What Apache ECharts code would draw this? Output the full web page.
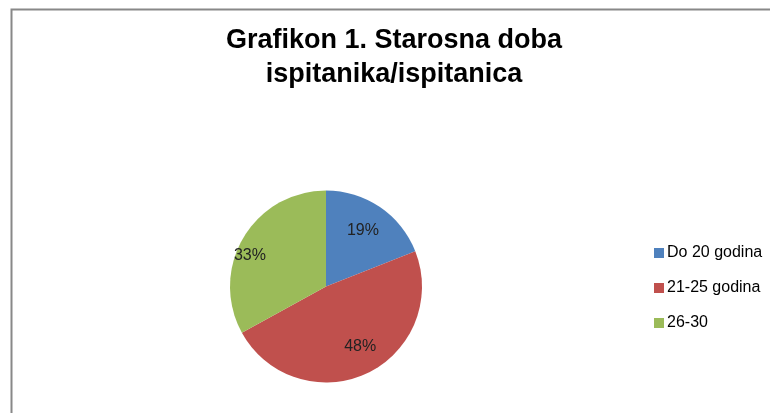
<!DOCTYPE html>
<html>
<head>
<meta charset="utf-8">
<style>
  html, body { margin: 0; padding: 0; background: #fff; }
  #chart { width: 770px; height: 413px; }
</style>
<script src="https://cdn.jsdelivr.net/npm/echarts@6/dist/echarts.min.js"></script>
</head>
<body>
<div id="chart"></div>
<script>
// podaci sa grafikona
var categories = ['Do 20 godina', '21-25 godina', '26-30']
var values = [19, 48, 33]
var colors = ['#4F81BD', '#C0504D', '#9BBB59']
// pomak oznaka postotaka (px), kao u izvorniku
var labelOffsets = [[-3, 3], [4, -4], [-15, 5]]

var font = '"Liberation Sans", sans-serif'

var chart = echarts.init(document.getElementById('chart'), null, { renderer: 'canvas' })

var pieData = categories.map(function (name, i) {
  return { name: name, value: values[i], itemStyle: { color: colors[i] } }
})

chart.setOption({
  animation: false,
  backgroundColor: '#fff',
  title: {
    text: 'Grafikon 1. Starosna doba\nispitanika/ispitanica',
    left: 389,
    top: 19,
    textAlign: 'center',
    textStyle: {
      fontFamily: font,
      fontSize: 27,
      fontWeight: 'bold',
      color: '#000',
      lineHeight: 34
    }
  },
  legend: {
    orient: 'vertical',
    left: 649,
    top: 240,
    icon: 'rect',
    itemWidth: 10,
    itemHeight: 10,
    itemGap: 19,
    data: categories,
    textStyle: { fontFamily: font, fontSize: 16, color: '#000', padding: [0, 0, 0, -2] }
  },
  graphic: [{
    type: 'rect',
    shape: { x: 11.5, y: 9.5, width: 800, height: 450 },
    style: { fill: 'none', stroke: '#888', lineWidth: 2 },
    silent: true
  }],
  series: [
    {
      name: 'Starosna doba',
      type: 'pie',
      center: [326, 286.5],
      radius: 96,
      startAngle: 90,
      clockwise: true,
      label: { show: false },
      labelLine: { show: false },
      itemStyle: { borderWidth: 0 },
      data: pieData
    },
    {
      // prozirni prsten samo za oznake postotaka
      name: 'oznake',
      type: 'pie',
      center: [326, 286.5],
      radius: [40, 96],
      startAngle: 90,
      silent: true,
      itemStyle: { color: 'rgba(0,0,0,0)' },
      label: {
        show: true,
        position: 'inside',
        formatter: '{c}%',
        fontFamily: font,
        fontSize: 16,
        color: '#222'
      },
      labelLine: { show: false },
      data: categories.map(function (name, i) {
        return { name: name, value: values[i], label: { offset: labelOffsets[i] } }
      })
    }
  ]
})
</script>
</body>
</html>
